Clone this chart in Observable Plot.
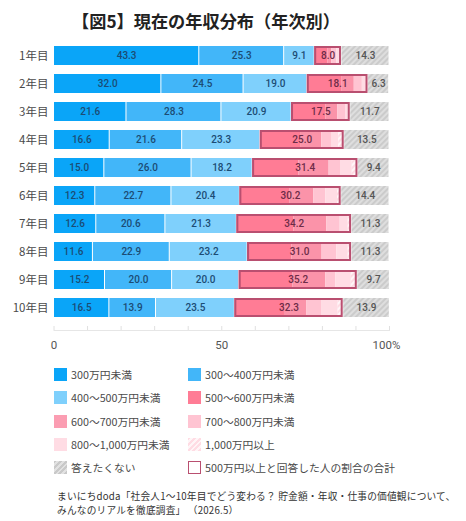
<!DOCTYPE html>
<html lang="ja"><head><meta charset="utf-8">
<script src="https://cdn.jsdelivr.net/npm/d3@7"></script>
<script src="https://cdn.jsdelivr.net/npm/@observablehq/plot@0.6"></script>
<style>
@font-face{font-family:"LegendDigits";src:local("Noto Sans");unicode-range:U+30-39,U+2C;size-adjust:125%;}
html,body{margin:0;padding:0;background:#fff;}
#root{position:relative;width:466px;height:521px;overflow:hidden;font-family:"Noto Sans CJK JP","Noto Sans",sans-serif;color:#444;}
#title{position:absolute;left:0;width:412px;top:8px;text-align:center;font-size:17.2px;font-weight:700;color:#222;line-height:26px;}
#chart{position:absolute;left:0;top:35px;}
#legend{position:absolute;left:54px;top:363px;display:grid;grid-template-columns:134px 240px;grid-auto-rows:23.25px;font-family:"LegendDigits","Noto Sans CJK JP",sans-serif;font-size:10.75px;color:#4a4a4a;}
#legend div{display:flex;align-items:center;height:23.25px;white-space:nowrap;}
#legend i{display:inline-block;box-sizing:border-box;width:13px;height:13px;margin-right:4px;flex:none;}
#caption{position:absolute;left:57px;top:489px;font-size:9.7px;letter-spacing:.2px;line-height:14.1px;color:#333;white-space:nowrap;}
</style></head><body>
<div id="root">
<div id="title">【図5】現在の年収分布（年次別）</div>
<div id="chart"></div>
<div id="legend"></div>
<div id="caption">まいにちdoda「社会人1〜10年目でどう変わる？ 貯金額・年収・仕事の価値観について、<br>みんなのリアルを徹底調査」 （2026.5）</div>
</div>
<script>
const years = ["1年目","2年目","3年目","4年目","5年目","6年目","7年目","8年目","9年目","10年目"];
const under300 = [43.3,32.0,21.6,16.6,15.0,12.3,12.6,11.6,15.2,16.5];
const from300 = [25.3,24.5,28.3,21.6,26.0,22.7,20.6,22.9,20.0,13.9];
const from400 = [9.1,19.0,20.9,23.3,18.2,20.4,21.3,23.2,20.0,23.5];
const from500 = [3.9,10.4,10.2,12.2,13.8,15.0,17.0,13.2,16.0,14.8];
const from600 = [1.2,3.6,3.6,6.1,9.0,7.0,9.8,9.0,9.8,6.6];
const from700 = [1.5,2.4,2.3,2.9,3.4,3.6,4.0,4.4,3.0,4.6];
const from800 = [1.1,1.4,1.1,2.2,3.5,3.5,2.4,3.4,4.6,4.8];
const over1000 = [0.3,0.3,0.3,1.6,1.7,1.1,1.0,1.0,1.8,1.5];
const noAnswer = [14.3,6.3,11.7,13.5,9.4,14.4,11.3,11.3,9.7,13.9];
const total500 = [8.0,18.1,17.5,25.0,31.4,30.2,34.2,31.0,35.2,32.3];

const seriesNames = ["300万円未満","300〜400万円未満","400〜500万円未満","500〜600万円未満","600〜700万円未満","700〜800万円未満","800〜1,000万円未満","1,000万円以上","答えたくない"];
const seriesValues = [under300,from300,from400,from500,from600,from700,from800,over1000,noAnswer];
const seriesFills = ["#0aa5f8","#42b6f9","#7fd0fc","#ff7c95","#fb93a9","#ffc4d2","#ffdce4","url(#hatchPink)","url(#hatchGray)"];
const swatchCss = ["#0aa5f8","#42b6f9","#7fd0fc","#ff7c95","#fb9db2","#ffc4d2","#ffdce4",
  "repeating-linear-gradient(135deg,#ffdce4 0 2px,#fff5f7 2px 4px)","repeating-linear-gradient(135deg,#c9c9c9 0 2px,#e2e2e2 2px 4px)"];
const boxName = "500万円以上と回答した人の割合の合計";
const boxColor = "#b94f70";
const xTickValues = [0,10,20,30,40,50,60,70,80,90,100];

const rows = [], totals = [];
years.forEach((year,r)=>{
  let cum = 0, start = 0;
  seriesNames.forEach((series,s)=>{
    const value = seriesValues[s][r];
    if(s===3) start = cum;
    rows.push({year,series,s,value,x1:cum,x2:cum+value});
    cum += value;
  });
  totals.push({year,x1:start,x2:start+total500[r],value:total500[r]});
});
const fmt = d=>d.toFixed(1);
const labelled = rows.filter(d=>d.s<3||d.s===8);
const defs = ()=>{
  const g = d3.create("svg:defs");
  const hatch=(id,bg,fg)=>{
    const p=g.append("pattern").attr("id",id).attr("patternUnits","userSpaceOnUse").attr("width",4).attr("height",4).attr("patternTransform","rotate(-45)");
    p.append("rect").attr("width",4).attr("height",4).attr("fill",bg);
    p.append("rect").attr("width",4).attr("height",2).attr("fill",fg);
  };
  hatch("hatchGray","#cbcbcb","#dedede");
  hatch("hatchPink","#ffdce4","#fff6f8");
  return g.node();
};
const barProps = {y:"year",fill:"series",x1:"x1",x2:"x2"};
const plot = Plot.plot({
  width:466,height:320,
  marginLeft:53.5,marginRight:77,marginTop:0,marginBottom:25,
  x:{domain:[0,100],axis:null},
  y:{domain:years,range:[5.35,288.35],paddingInner:.33,paddingOuter:.165,axis:null},
  color:{domain:seriesNames,range:seriesFills},
  marks:[
    defs,
    Plot.barX(rows.filter(d=>d.s<3||d.s===8),{...barProps,insetLeft:.5,insetRight:.5}),
    Plot.barX(rows.filter(d=>d.s>=3&&d.s<8),barProps),
    Plot.barX(totals,{x1:"x1",x2:"x2",y:"year",fill:"none",stroke:boxColor,strokeWidth:2,inset:1}),
    Plot.text(labelled,{x:d=>(d.x1+d.x2)/2,y:"year",text:d=>fmt(d.value),fontSize:10,fontWeight:500,fontFamily:"Roboto",
      fill:d=>d.s===8?"#555":"#1c4c74"}),
    Plot.text(totals,{x:d=>(d.x1+d.x2)/2,y:"year",text:d=>fmt(d.value),fontSize:10,fontWeight:500,fontFamily:"Roboto",fill:"#6d2c48"}),
    Plot.text(years,{y:d=>d,frameAnchor:"left",dx:-5.5,textAnchor:"end",text:d=>d,fontSize:11.5,fill:"#4a4a4a",fontFamily:"Noto Sans CJK JP"}),
    Plot.frame({anchor:"bottom",stroke:"#e6e6e6"}),
    Plot.axisX({anchor:"bottom",ticks:xTickValues,tickSize:-4,tickFormat:()=>"",stroke:"#e0e0e0"}),
    Plot.text([0,50],{x:d=>d,frameAnchor:"bottom",dy:18,text:d=>`${d}`,fontSize:11.5,fill:"#555",fontFamily:"Roboto"}),
    Plot.text([100],{x:d=>d,frameAnchor:"bottom",dy:18,dx:-3,text:d=>`${d}%`,fontSize:11.5,fill:"#555",fontFamily:"Roboto"})
  ]
});
document.getElementById("chart").append(plot);

const lg = d3.select("#legend");
seriesNames.forEach((name,i)=>{
  const row = lg.append("div");
  row.append("i").style("background",swatchCss[i]);
  row.append("span").text(name);
});
const boxRow = lg.append("div");
boxRow.append("i").style("border",`1.5px solid ${boxColor}`).style("background","#fff");
boxRow.append("span").text(boxName);
</script>
</body></html>
